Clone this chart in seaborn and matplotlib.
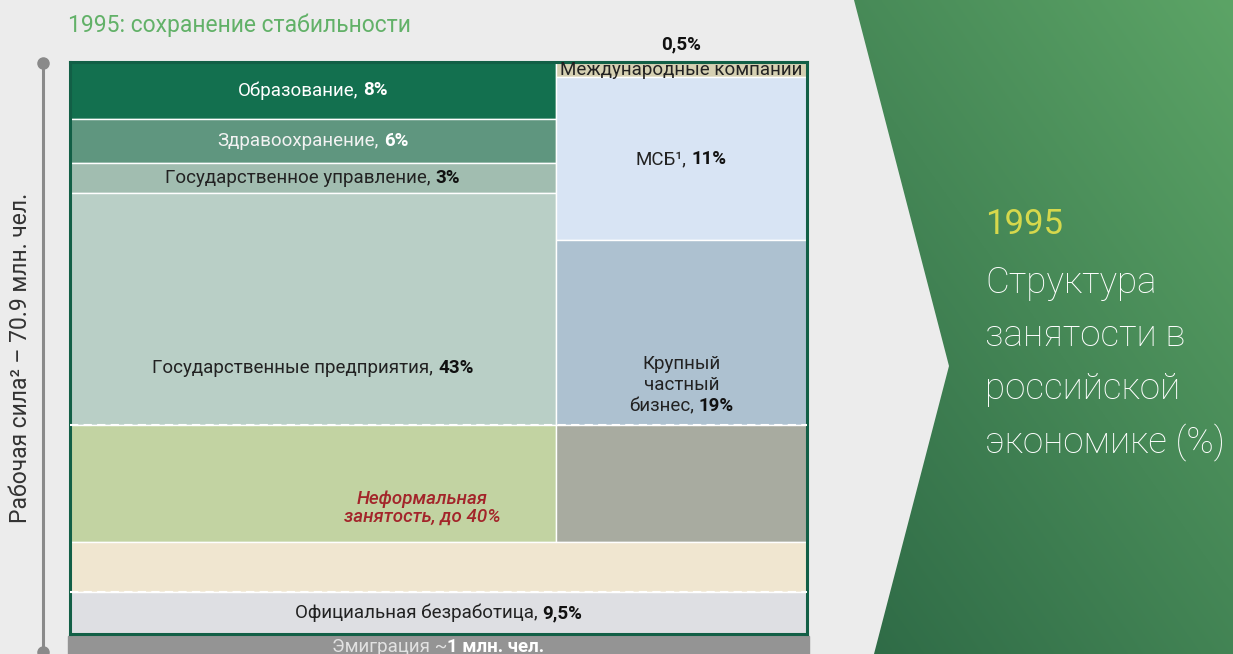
import numpy as np
import pandas as pd
import seaborn as sns
import matplotlib.pyplot as plt
from matplotlib.patches import Polygon, Rectangle
from matplotlib.transforms import offset_copy

# ---- данные (доли высоты блока, как нарисовано на схеме) ----
left_labels = ['Образование,', 'Здравоохранение,', 'Государственное управление,',
               'Государственные предприятия,', 'Неформальная\nзанятость, до 40%']
left_values = ['8%', '6%', '3%', '43%', '']
left_drawn = [9.9, 7.7, 5.3, 40.5, 20.5]
left_colors = ['#13704f', '#5f967f', '#a1bdb0', '#b9cfc6', '#c2d3a2']

right_labels = ['Международные компании', 'МСБ¹,', 'бизнес,', '']
right_values = ['0,5%', '11%', '19%', '']
right_drawn = [2.7, 28.5, 32.2, 20.5]
right_colors = ['#d5d0b2', '#d8e4f4', '#adc1d0', '#a8aba0']

bottom_labels = ['', 'Официальная безработица,']
bottom_values = ['', '9,5%']
bottom_drawn = [8.8, 7.3]
bottom_colors = ['#f0e6d0', '#dedfe3']

column_widths = [65.9, 34.1]

right_lines = ['Структура', 'занятости в', 'российской', 'экономике (%)']

# ---- таблица сегментов ----
rows = []
for col, (hs, cs) in enumerate([(left_drawn, left_colors), (right_drawn, right_colors)]):
    x0 = sum(column_widths[:col])
    b = 0
    for h, c in zip(hs, cs):
        rows.append(dict(x0=x0, w=column_widths[col], h=h, b=b, color=c))
        b += h
b = sum(left_drawn)
for h, c in zip(bottom_drawn, bottom_colors):
    rows.append(dict(x0=0, w=sum(column_widths), h=h, b=b, color=c))
    b += h
seg = pd.DataFrame(rows)

sns.set_theme(style='white', rc={'figure.facecolor': '#ececec', 'axes.facecolor': '#ececec'})
plt.rcParams['font.family'] = ['Roboto', 'DejaVu Sans']

W, H = 1233, 654
fig = plt.figure(figsize=(W / 100, H / 100), dpi=100)

# фон в пикселях
ax_bg = fig.add_axes([0, 0, 1, 1], zorder=0)
ax_bg.set_facecolor('#ececec')

X, Y = np.meshgrid(np.linspace(0, 1, 200), np.linspace(0, 1, 300))
t = np.clip(0.45 * X + 0.55 * (1 - Y), 0, 1)[..., None]
dark = np.array([46, 106, 70]) / 255
light = np.array([92, 164, 102]) / 255
img = dark + t * (light - dark)
im = ax_bg.imshow(img, extent=[850, W, H, 0], origin='upper', aspect='auto', zorder=1)
poly = Polygon([(854, 0), (W, 0), (W, H), (874, H), (949, 366)], closed=True,
               facecolor='none', edgecolor='none', transform=ax_bg.transData)
ax_bg.add_patch(poly)
im.set_clip_path(poly)

ax_bg.add_patch(Rectangle((68, 636), 741, 20, color='#949494', zorder=2))
ax_bg.plot([43, 43], [63, 652], color='#8a8a8a', lw=2.2, zorder=2)
ax_bg.plot([43, 43], [63, 652], 'o', color='#8a8a8a', ms=8, zorder=2)
ax_bg.set_xlim(0, W)
ax_bg.set_ylim(H, 0)
ax_bg.axis('off')

ax_bg.text(21, 358, 'Рабочая сила² – 70.9 млн. чел.', rotation=90, ha='center', va='center',
           fontsize=16.5, color='#333333')
ax_bg.text(68, 25, '1995: сохранение стабильности', ha='left', va='center',
           fontsize=16.5, color='#62b168')
ax_bg.text(985, 225, '1995', ha='left', va='center', fontsize=25, color='#d6d84c')
for i, line in enumerate(right_lines):
    ax_bg.text(985, 283 + i * 53, line, ha='left', va='center', fontsize=26.5,
               color='white', fontweight='light')

# основной блок
ax = fig.add_axes([70 / W, 20 / H, 737 / W, 572 / H], zorder=2)
for _, r in seg.iterrows():
    ax.bar(r.x0, r.h, width=r.w, bottom=r.b, align='edge', color=r.color,
           edgecolor='white', linewidth=1)
ax.set_xlim(0, 100)
ax.set_ylim(100, 0)
ax.set_xticks([])
ax.set_yticks([])
for s in ax.spines.values():
    s.set_color('#125f46')
    s.set_linewidth(2.2)

dash_y = [sum(left_drawn[:4]), sum(left_drawn) + bottom_drawn[0]]
for y in dash_y:
    ax.axhline(y, color='white', lw=1.5, ls=(0, (4, 2.5)), zorder=3)

renderer = fig.canvas.get_renderer()


def mixed(a, x, y, parts, size, colors, trans=None, gap=0.27):
    trans = trans or a.transData
    texts = []
    for (s, wgt), c in zip(parts, colors):
        texts.append(a.text(x, y, s, fontweight=wgt, fontsize=size, color=c, ha='left',
                            va='center', transform=trans, clip_on=False, zorder=5))
    widths = [tx.get_window_extent(renderer).width for tx in texts]
    gap = gap * size * 100 / 72
    off = -(sum(widths) + gap * (len(texts) - 1)) / 2
    for tx, wd in zip(texts, widths):
        tx.set_transform(offset_copy(trans, fig=fig, x=off, y=0, units='dots'))
        off += wd + gap


lx = column_widths[0] / 2
rx = column_widths[0] + column_widths[1] / 2
lb = np.cumsum([0] + left_drawn)
rb = np.cumsum([0] + right_drawn)
fs = 13.5
dk, bk = '#222222', '#111111'

mixed(ax, lx, lb[0] + left_drawn[0] / 2, [(left_labels[0], 'normal'), (left_values[0], 'bold')], fs, ['white', 'white'])
mixed(ax, lx, lb[1] + left_drawn[1] / 2, [(left_labels[1], 'normal'), (left_values[1], 'bold')], fs, ['#f2f2f2', 'white'])
mixed(ax, lx, lb[2] + left_drawn[2] / 2, [(left_labels[2], 'normal'), (left_values[2], 'bold')], fs, [dk, bk])
mixed(ax, lx, lb[3] + left_drawn[3] * 0.755, [(left_labels[3], 'normal'), (left_values[3], 'bold')], fs, [dk, bk])
ax.text(lx + 14.8, lb[4] + left_drawn[4] * 0.71, left_labels[4], ha='center', va='center',
        fontsize=fs, color='#a3252a', style='italic', fontweight='medium', linespacing=1.0)

ax.text(rx, rb[0] + right_drawn[0] / 2, right_labels[0], ha='center', va='center',
        fontsize=fs, color=dk)
ax.text(rx, -3.0, right_values[0], ha='center', va='center', fontsize=fs,
        color=bk, fontweight='bold', clip_on=False)
mixed(ax, rx, rb[1] + right_drawn[1] / 2, [(right_labels[1], 'normal'), (right_values[1], 'bold')], fs, [dk, bk])
ax.text(rx, rb[2] + right_drawn[2] * 0.9 - 7.34, 'Крупный', ha='center', va='center', fontsize=fs, color=dk)
ax.text(rx, rb[2] + right_drawn[2] * 0.9 - 3.67, 'частный', ha='center', va='center', fontsize=fs, color=dk)
mixed(ax, rx, rb[2] + right_drawn[2] * 0.9, [(right_labels[2], 'normal'), (right_values[2], 'bold')], fs, [dk, bk])

bb = sum(left_drawn) + bottom_drawn[0]
mixed(ax, 50, bb + bottom_drawn[1] / 2, [(bottom_labels[1], 'normal'), (bottom_values[1], 'bold')], fs, [dk, bk])

mixed(ax_bg, 438, 647, [('Эмиграция ~', 'normal'), ('1 млн. чел.', 'bold')], fs, ['#e2e2e2', 'white'],
      trans=ax_bg.transData, gap=0.02)

fig.savefig('out.png', dpi=100, facecolor=fig.get_facecolor())
